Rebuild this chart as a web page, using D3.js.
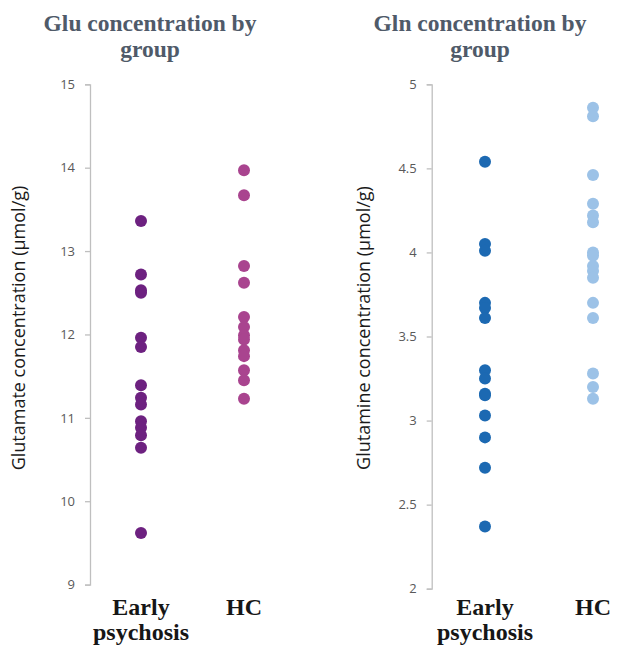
<!DOCTYPE html>
<html>
<head>
<meta charset="utf-8">
<script src="https://cdn.jsdelivr.net/npm/d3@7"></script>
<style>
  html, body { margin: 0; padding: 0; background: #fff; }
  svg { display: block; }
</style>
</head>
<body>
<svg id="chart" width="621" height="647"></svg>
<script>
// ---- Data ----
const groups = ["Early psychosis", "HC"];
const gluEarly = [13.36, 12.72, 12.53, 12.50, 11.96, 11.85, 11.39, 11.24, 11.16, 10.96, 10.88, 10.79, 10.64, 9.62];
const gluHC = [13.97, 13.67, 12.82, 12.62, 12.21, 12.09, 11.99, 11.94, 11.81, 11.74, 11.57, 11.45, 11.23];
const glnEarly = [4.54, 4.05, 4.01, 3.70, 3.67, 3.61, 3.30, 3.25, 3.16, 3.15, 3.03, 2.90, 2.72, 2.37];
const glnHC = [4.86, 4.81, 4.46, 4.29, 4.22, 4.18, 4.00, 3.98, 3.92, 3.89, 3.85, 3.70, 3.61, 3.28, 3.20, 3.13];
const gluTicks = [9, 10, 11, 12, 13, 14, 15];
const glnTicks = [2, 2.5, 3, 3.5, 4, 4.5, 5];
const titles = [["Glu concentration by", "group"], ["Gln concentration by", "group"]];
const yLabels = ["Glutamate concentration (\u00b5mol/g)", "Glutamine concentration (\u00b5mol/g)"];

const svg = d3.select("#chart");

const panels = [
  { axisX: 90, xRange: [141, 244], yDomain: [9, 15], yRange: [584.6, 84.3], ticks: gluTicks,
    series: [gluEarly, gluHC], colors: ["#6d2180", "#a9448f"], title: titles[0], ylab: yLabels[0],
    titleX: 150, ylabX: 25 },
  { axisX: 431.7, xRange: [485, 593], yDomain: [2, 5], yRange: [588.7, 84.3], ticks: glnTicks,
    series: [glnEarly, glnHC], colors: ["#1c69b2", "#9cc2e7"], title: titles[1], ylab: yLabels[1],
    titleX: 480, ylabX: 370 }
];

panels.forEach(p => {
  const x = d3.scalePoint().domain(groups).range(p.xRange);
  const y = d3.scaleLinear().domain(p.yDomain).range(p.yRange);

  // title
  const t = svg.append("text")
    .attr("x", p.titleX).attr("y", 31)
    .attr("text-anchor", "middle")
    .attr("font-family", "'Liberation Serif', 'Times New Roman', serif")
    .attr("font-weight", "bold")
    .attr("font-size", 23.5)
    .attr("fill", "#4f5a69");
  p.title.forEach((line, i) => {
    t.append("tspan").attr("x", p.titleX).attr("dy", i === 0 ? 0 : 26).text(line);
  });

  // y axis
  const ax = svg.append("g")
    .attr("transform", `translate(${p.axisX},0)`)
    .call(d3.axisLeft(y).tickValues(p.ticks).tickSize(5).tickPadding(10).tickFormat(d => String(d)));
  ax.select(".domain").attr("stroke", "#bfbfbf").attr("stroke-width", 1.3);
  ax.selectAll(".tick line").attr("stroke", "#bfbfbf").attr("stroke-width", 1.3);
  ax.selectAll(".tick text")
    .attr("fill", "#595959")
    .attr("font-family", "'Open Sans', 'Noto Sans', sans-serif")
    .attr("font-size", 13);

  // y label
  svg.append("text")
    .attr("transform", `translate(${p.ylabX},${328}) rotate(-90)`)
    .attr("text-anchor", "middle")
    .attr("font-family", "'Open Sans', 'Noto Sans', sans-serif")
    .attr("font-size", 18)
    .attr("fill", "#1a1a1a")
    .text(p.ylab);

  // points
  groups.forEach((g, gi) => {
    svg.append("g").selectAll("circle")
      .data(p.series[gi])
      .join("circle")
      .attr("cx", x(g))
      .attr("cy", d => y(d))
      .attr("r", 6)
      .attr("fill", p.colors[gi]);
  });

  // category labels
  groups.forEach(g => {
    const words = g === "Early psychosis" ? ["Early", "psychosis"] : [g];
    const ct = svg.append("text")
      .attr("x", x(g)).attr("y", 615)
      .attr("text-anchor", "middle")
      .attr("font-family", "'Liberation Serif', 'Times New Roman', serif")
      .attr("font-weight", "bold")
      .attr("font-size", 24)
      .attr("fill", "#161616");
    words.forEach((w, i) => {
      ct.append("tspan").attr("x", x(g)).attr("dy", i === 0 ? 0 : 25).text(w);
    });
  });
});
</script>
</body>
</html>
